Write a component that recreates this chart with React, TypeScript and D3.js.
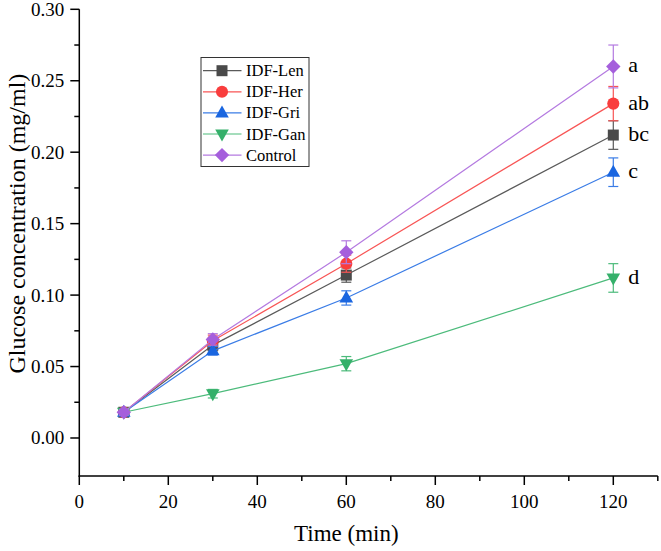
import React from "react";
import * as d3 from "d3";

const times = [10, 30, 60, 120];
const seriesNames = ["IDF-Len", "IDF-Her", "IDF-Gri", "IDF-Gan", "Control"];
const lenValues = [0.018, 0.065, 0.114, 0.212];
const herValues = [0.018, 0.068, 0.122, 0.234];
const griValues = [0.018, 0.061, 0.098, 0.186];
const ganValues = [0.018, 0.031, 0.052, 0.112];
const controlValues = [0.018, 0.069, 0.130, 0.260];
const lenErr = [0.002, 0.004, 0.005, 0.010];
const herErr = [0.002, 0.004, 0.006, 0.012];
const griErr = [0.002, 0.003, 0.005, 0.010];
const ganErr = [0.002, 0.003, 0.005, 0.010];
const controlErr = [0.002, 0.004, 0.008, 0.015];
const sigLetters = ["bc", "ab", "c", "d", "a"];
const xTicks = [0, 20, 40, 60, 80, 100, 120];
const xMinorTicks = [10, 30, 50, 70, 90, 110, 130];
const yTicks = [0, 0.05, 0.1, 0.15, 0.2, 0.25, 0.3];
const yMinorTicks = [0.025, 0.075, 0.125, 0.175, 0.225, 0.275];

const markerColors = ["#4a4a4a", "#f93d3d", "#1a66e0", "#35b06a", "#a55fdc"];
const lineColors = ["#5a5a5a", "#f85555", "#3a7ce6", "#4cbb7b", "#b47ae0"];
const shapes = ["square", "circle", "triUp", "triDown", "diamond"];

const W = 661;
const H = 551;
const FONT = "'Liberation Serif', 'Times New Roman', serif";

function markerPath(shape: string): string {
  switch (shape) {
    case "square":
      return "M-5.5,-5.5H5.5V5.5H-5.5Z";
    case "circle":
      return d3.symbol(d3.symbolCircle, 115)() as string;
    case "triUp":
      return "M0,-7.5L6.8,4.5L-6.8,4.5Z";
    case "triDown":
      return "M0,7.5L6.8,-4.5L-6.8,-4.5Z";
    case "diamond":
      return "M0,-7.2L7.2,0L0,7.2L-7.2,0Z";
  }
  return "";
}

export default function App() {
  const x = d3.scaleLinear().domain([0, 130]).range([79.3, 657.8]);
  const y = d3.scaleLinear().domain([-0.0266, 0.3]).range([476, 9.3]);
  const values = [lenValues, herValues, griValues, ganValues, controlValues];
  const errs = [lenErr, herErr, griErr, ganErr, controlErr];
  const line = d3
    .line<number>()
    .x((_, i) => x(times[i]))
    .y((d) => y(d));

  const x0 = x(0);
  const yBase = y(-0.0266);

  return (
    <svg
      width={W}
      height={H}
      style={{ position: "absolute", left: 0, top: 0, background: "#fff" }}
      fontFamily={FONT}
    >
      <rect width={W} height={H} fill="#fff" />
      {/* series */}
      {values.map((vals, si) => (
        <g key={seriesNames[si]}>
          <path d={line(vals) as string} fill="none" stroke={lineColors[si]} strokeWidth={1.2} />
          {vals.map((v, i) => {
            const cx = x(times[i]);
            const e = errs[si][i];
            return (
              <g key={i} stroke={lineColors[si]} strokeWidth={1.2}>
                <line x1={cx} x2={cx} y1={y(v + e)} y2={y(v - e)} />
                <line x1={cx - 5} x2={cx + 5} y1={y(v + e)} y2={y(v + e)} />
                <line x1={cx - 5} x2={cx + 5} y1={y(v - e)} y2={y(v - e)} />
              </g>
            );
          })}
          {vals.map((v, i) => (
            <path
              key={"m" + i}
              d={markerPath(shapes[si])}
              transform={`translate(${x(times[i])},${y(v)})`}
              fill={markerColors[si]}
            />
          ))}
          <text
            x={x(times[3]) + 15}
            y={y(vals[3]) + 6}
            fontSize={22}
            fill="#000"
          >
            {sigLetters[si]}
          </text>
        </g>
      ))}

      {/* axes */}
      <g stroke="#000" strokeWidth={1.5}>
        <line x1={x0} x2={x0} y1={y(0.3)} y2={yBase + 0.75} />
        <line x1={x0 - 0.75} x2={x(130)} y1={yBase} y2={yBase} />
        {yTicks.map((t) => (
          <line key={"yt" + t} x1={x0 - 9} x2={x0} y1={y(t)} y2={y(t)} />
        ))}
        {yMinorTicks.map((t) => (
          <line key={"ym" + t} x1={x0 - 5} x2={x0} y1={y(t)} y2={y(t)} />
        ))}
        {xTicks.map((t) => (
          <line key={"xt" + t} x1={x(t)} x2={x(t)} y1={yBase} y2={yBase + 9} />
        ))}
        {xMinorTicks.map((t) => (
          <line key={"xm" + t} x1={x(t)} x2={x(t)} y1={yBase} y2={yBase + 5} />
        ))}
      </g>
      {yTicks.map((t) => (
        <text
          key={"yl" + t}
          x={x0 - 15}
          y={y(t) + 6.5}
          textAnchor="end"
          fontSize={19}
          fill="#000"
        >
          {d3.format(".2f")(t)}
        </text>
      ))}
      {xTicks.map((t) => (
        <text
          key={"xl" + t}
          x={x(t)}
          y={yBase + 32}
          textAnchor="middle"
          fontSize={19}
          fill="#000"
        >
          {t}
        </text>
      ))}
      <text x={x(60)} y={541} textAnchor="middle" fontSize={23} fill="#000">
        Time (min)
      </text>
      <text
        transform={`translate(25,${y(0.15)}) rotate(-90)`}
        textAnchor="middle"
        fontSize={24}
        fill="#000"
      >
        Glucose concentration (mg/ml)
      </text>

      {/* legend */}
      <rect x={201} y={57.5} width={108} height={109} fill="#fff" stroke="#333" strokeWidth={1} />
      {seriesNames.map((name, i) => {
        const ly = 70.7 + i * 21.1;
        return (
          <g key={"lg" + name}>
            <line x1={203} x2={241.5} y1={ly} y2={ly} stroke={lineColors[i]} strokeWidth={1.2} />
            <path d={markerPath(shapes[i])} transform={`translate(222,${ly})`} fill={markerColors[i]} />
            <text x={246} y={ly + 5.5} fontSize={16.5} fill="#000">
              {name}
            </text>
          </g>
        );
      })}
    </svg>
  );
}
